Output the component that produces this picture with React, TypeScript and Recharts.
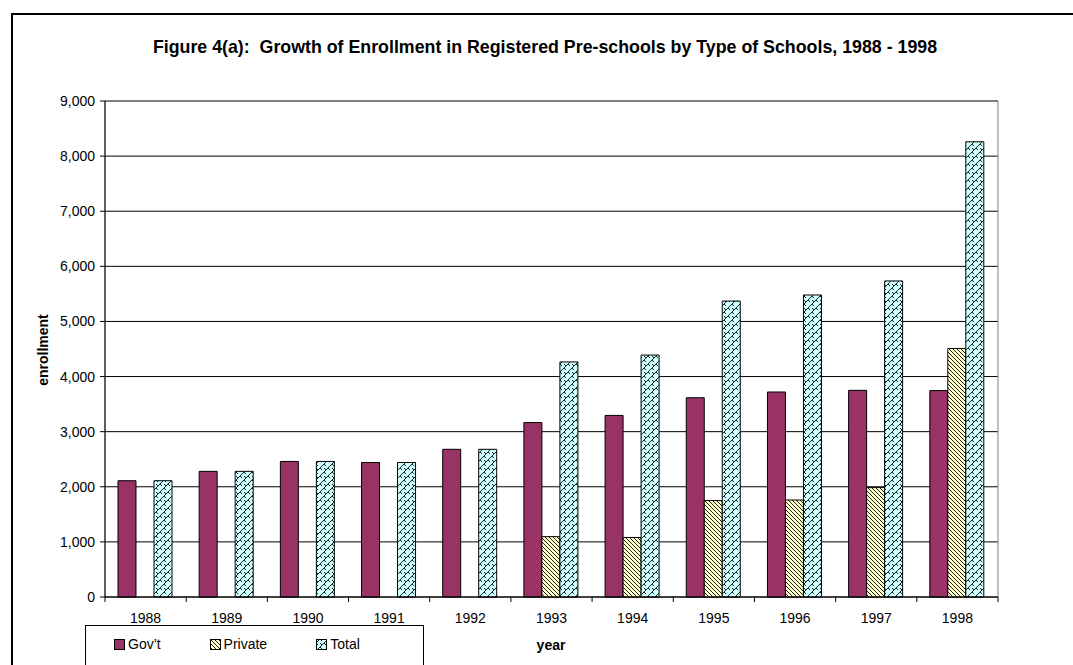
import { BarChart, Bar, XAxis, YAxis, CartesianGrid, Legend, ReferenceArea } from 'recharts'

const years = ['1988', '1989', '1990', '1991', '1992', '1993', '1994', '1995', '1996', '1997', '1998']
const govt = [2110, 2280, 2460, 2440, 2680, 3165, 3295, 3615, 3720, 3750, 3745]
const privateSchools = [0, 0, 0, 0, 0, 1095, 1080, 1750, 1760, 1985, 4510]
const total = [2110, 2280, 2460, 2440, 2680, 4265, 4390, 5370, 5480, 5735, 8260]
const yTicks = [0, 1000, 2000, 3000, 4000, 5000, 6000, 7000, 8000, 9000]

const data = years.map((year, i) => ({ year, govt: govt[i], priv: privateSchools[i], total: total[i] }))

const FONT = '"Liberation Sans", Arial, sans-serif'
const W = 1073
const H = 665
const MARGIN = { top: 101, right: 75, bottom: 38, left: 45 }
const Y_AXIS_W = 60
const BAND = (W - MARGIN.left - MARGIN.right - Y_AXIS_W) / years.length

const SERIES = [
  { key: 'govt', name: 'Gov\u2019t', fill: '#993366' },
  { key: 'priv', name: 'Private', fill: 'url(#privHatch)' },
  { key: 'total', name: 'Total', fill: 'url(#totalWeave)' },
]

// x ticks sit between the years, like the original spreadsheet chart
function YearTick({ x, y, payload, index }: any) {
  const half = BAND / 2
  return (
    <g>
      <line x1={x - half} y1={y} x2={x - half} y2={y + 5} stroke="#000" />
      {index === years.length - 1 && <line x1={x + half} y1={y} x2={x + half} y2={y + 5} stroke="#000" />}
      <text x={x} y={y + 26} textAnchor="middle" fontSize={14} fontFamily={FONT} fill="#000">
        {payload.value}
      </text>
    </g>
  )
}

function LegendBox() {
  return (
    <div
      style={{
        border: '1px solid #000',
        height: 50,
        boxSizing: 'border-box',
        display: 'flex',
        alignItems: 'flex-start',
        paddingTop: 10,
        fontFamily: FONT,
        fontSize: 14,
        color: '#000',
      }}
    >
      {SERIES.map((s, i) => (
        <div key={s.key} style={{ display: 'flex', alignItems: 'center', marginLeft: i === 0 ? 28 : 0, width: i === 0 ? 111 : 124 }}>
          <svg width={11} height={11} style={{ marginRight: 3 }}>
            <rect x={0.5} y={0.5} width={10} height={10} fill={s.fill} stroke="#000" />
          </svg>
          <span>{s.name}</span>
        </div>
      ))}
    </div>
  )
}

export default function App() {
  return (
    <div style={{ position: 'absolute', left: 0, top: 0, width: W, height: H, overflow: 'hidden', background: '#fff' }}>
      <svg width={0} height={0} style={{ position: 'absolute' }}>
        <defs>
          <pattern id="privHatch" width="4" height="4" patternUnits="userSpaceOnUse">
            <rect width="4" height="4" fill="#FFFFCC" />
            <path d="M-1,-1 L5,5 M-1,3 L1,5 M3,-1 L5,1" stroke="#222" strokeWidth="1" />
          </pattern>
          <pattern id="totalWeave" width="8" height="8" patternUnits="userSpaceOnUse">
            <rect width="8" height="8" fill="#CCFFFF" />
            <path d="M0,4 L4,0 M4,8 L8,4 M4,0 L6,2 M0,4 L2,6 M4,4 L6,6" stroke="#222" strokeWidth="1" fill="none" />
          </pattern>
        </defs>
      </svg>

      <div style={{ position: 'absolute', left: 11, top: 13, width: 1200, height: 800, borderLeft: '2px solid #000', borderTop: '2px solid #000' }} />

      <div
        style={{
          position: 'absolute',
          left: 0,
          top: 37,
          width: 1090,
          textAlign: 'center',
          fontFamily: FONT,
          fontWeight: 'bold',
          fontSize: 17.8,
          lineHeight: '20px',
          whiteSpace: 'pre',
        }}
      >
        {'Figure 4(a):  Growth of Enrollment in Registered Pre-schools by Type of Schools, 1988 - 1998'}
      </div>

      <div
        style={{
          position: 'absolute',
          left: 43,
          top: 350,
          transform: 'translate(-50%, -50%) rotate(-90deg)',
          fontFamily: FONT,
          fontWeight: 'bold',
          fontSize: 14,
          lineHeight: '16px',
        }}
      >
        enrollment
      </div>

      <div
        style={{
          position: 'absolute',
          left: 551,
          top: 637,
          transform: 'translateX(-50%)',
          fontFamily: FONT,
          fontWeight: 'bold',
          fontSize: 14,
          lineHeight: '16px',
        }}
      >
        year
      </div>

      <div style={{ position: 'absolute', left: 0, top: 0 }}>
        <BarChart width={W} height={H} data={data} margin={MARGIN} barCategoryGap="16%" barGap={0}>
          <CartesianGrid vertical={false} stroke="#000" />
          <XAxis
            dataKey="year"
            interval={0}
            tickLine={false}
            tickSize={0}
            tickMargin={0}
            height={30}
            axisLine={{ stroke: '#000' }}
            tick={<YearTick />}
          />
          <YAxis
            width={Y_AXIS_W}
            domain={[0, 9000]}
            ticks={yTicks}
            interval={0}
            tickFormatter={(v: number) => v.toLocaleString('en-US')}
            tick={{ fontSize: 14, fill: '#000', fontFamily: FONT }}
            tickSize={5}
            tickMargin={5}
            tickLine={{ stroke: '#000' }}
            axisLine={{ stroke: '#000' }}
          />
          <ReferenceArea x1="1988" x2="1998" y1={0} y2={9000} fill="none" stroke="#808080" ifOverflow="visible" />
          {SERIES.map((s) => (
            <Bar key={s.key} dataKey={s.key} name={s.name} fill={s.fill} stroke="#000" strokeWidth={1} isAnimationActive={false} />
          ))}
          <Legend
            layout="vertical"
            verticalAlign="middle"
            align="center"
            content={<LegendBox />}
            wrapperStyle={{ left: 85, top: 625, width: 339, height: 50 }}
          />
        </BarChart>
      </div>
    </div>
  )
}
